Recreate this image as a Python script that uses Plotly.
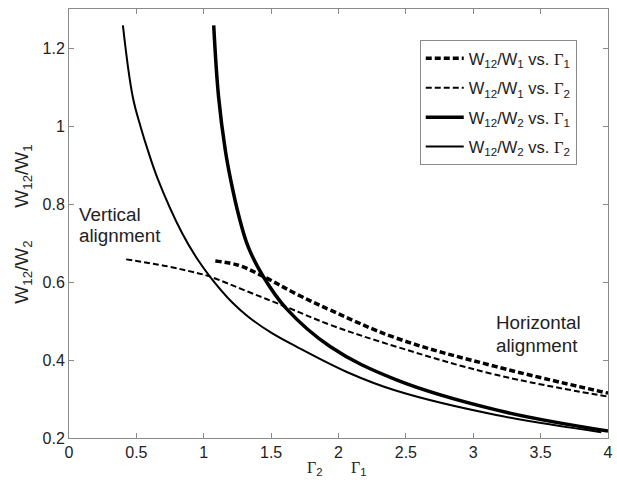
import plotly.graph_objects as go

# W12/W1 vs Gamma1 (thick dashed)
w1_g1_x = [1.086, 1.257, 1.454, 1.70, 1.94, 2.43, 3.17, 4.0]
w1_g1_y = [0.654, 0.643, 0.612, 0.567, 0.528, 0.456, 0.383, 0.315]

# W12/W1 vs Gamma2 (thin dashed)
w1_g2_x = [0.424, 0.718, 0.963, 1.037, 1.33, 1.62, 1.94, 2.43, 3.17, 4.0]
w1_g2_y = [0.658, 0.641, 0.622, 0.615, 0.575, 0.535, 0.49, 0.434, 0.362, 0.306]

# W12/W2 vs Gamma1 (thick solid)
w2_g1_x = [1.074, 1.11, 1.16, 1.20, 1.26, 1.33, 1.44, 1.61, 1.94, 2.43, 3.17, 4.0]
w2_g1_y = [1.258, 1.075, 0.938, 0.862, 0.770, 0.690, 0.615, 0.533, 0.434, 0.349, 0.272, 0.218]

# W12/W2 vs Gamma2 (thin solid)
w2_g2_x = [0.40, 0.473, 0.534, 0.583, 0.657, 0.84, 0.96, 1.05, 1.21, 1.33, 1.50, 1.70, 2.07, 2.43, 3.17, 3.95]
w2_g2_y = [1.258, 1.075, 0.995, 0.940, 0.866, 0.725, 0.655, 0.612, 0.548, 0.511, 0.470, 0.432, 0.368, 0.321, 0.259, 0.215]

x_ticks = [0, 0.5, 1, 1.5, 2, 2.5, 3, 3.5, 4]
x_tick_text = ["0", "0.5", "1", "1.5", "2", "2.5", "3", "3.5", "4"]
y_ticks = [0.2, 0.4, 0.6, 0.8, 1.0, 1.2]
y_tick_text = ["0.2", "0.4", "0.6", "0.8", "1", "1.2"]

SANS = "Arial, 'Liberation Sans', sans-serif"
G = "<span style=\"font-family:'Liberation Serif', 'Times New Roman', serif\">\u0393</span>"

names = [
    "W<sub>12</sub>/W<sub>1</sub> vs. " + G + "<sub>1</sub>",
    "W<sub>12</sub>/W<sub>1</sub> vs. " + G + "<sub>2</sub>",
    "W<sub>12</sub>/W<sub>2</sub> vs. " + G + "<sub>1</sub>",
    "W<sub>12</sub>/W<sub>2</sub> vs. " + G + "<sub>2</sub>",
]

series = [
    (w1_g1_x, w1_g1_y, 3.5, "6px,3px"),
    (w1_g2_x, w1_g2_y, 2.0, "6px,3px"),
    (w2_g1_x, w2_g1_y, 3.5, "solid"),
    (w2_g2_x, w2_g2_y, 2.0, "solid"),
]

fig = go.Figure()
for i, ((xs, ys, w, d), nm) in enumerate(zip(series, names)):
    fig.add_trace(go.Scatter(
        x=xs, y=ys, mode="lines", name=nm, legendgroup=f"g{i}",
        line=dict(color="black", width=w, dash=d, shape="spline", smoothing=1.1),
    ))

axis_common = dict(
    showline=True, mirror="ticks", linecolor="#8a8a8a", linewidth=1,
    ticks="inside", ticklen=5, tickcolor="#8a8a8a",
    showgrid=False, zeroline=False, ticklabeloverflow="allow",
    tickfont=dict(family=SANS, size=16, color="#222"),
)

fig.update_xaxes(range=[0, 4], tickvals=x_ticks, ticktext=x_tick_text, **axis_common)
fig.update_yaxes(range=[0.2, 1.3], tickvals=y_ticks, ticktext=y_tick_text, **axis_common)

ann_font = dict(family=SANS, size=18.8, color="#222")
annotations = [
    dict(x=0.059, y=0.772, text="Vertical", showarrow=False, xanchor="left", yanchor="middle", font=ann_font),
    dict(x=0.059, y=0.718, text="alignment", showarrow=False, xanchor="left", yanchor="middle", font=ann_font),
    dict(x=3.154, y=0.495, text="Horizontal", showarrow=False, xanchor="left", yanchor="middle", font=ann_font),
    dict(x=3.154, y=0.438, text="alignment", showarrow=False, xanchor="left", yanchor="middle", font=ann_font),
    # y-axis titles
    dict(xref="paper", yref="paper", x=-0.086, y=(438 - 176) / 429, text="W<sub>12</sub>/W<sub>1</sub>",
         showarrow=False, textangle=-90, xanchor="center", yanchor="middle",
         font=dict(family=SANS, size=19, color="#222")),
    dict(xref="paper", yref="paper", x=-0.086, y=(438 - 272) / 429, text="W<sub>12</sub>/W<sub>2</sub>",
         showarrow=False, textangle=-90, xanchor="center", yanchor="middle",
         font=dict(family=SANS, size=19, color="#222")),
    # x-axis titles
    dict(xref="paper", yref="paper", x=(317 - 69) / 544, y=-(468 - 438) / 429, text=G + "<sub>2</sub>",
         showarrow=False, xanchor="center", yanchor="middle",
         font=dict(family=SANS, size=16, color="#222")),
    dict(xref="paper", yref="paper", x=(361 - 69) / 544, y=-(468 - 438) / 429, text=G + "<sub>1</sub>",
         showarrow=False, xanchor="center", yanchor="middle",
         font=dict(family=SANS, size=16, color="#222")),
]

fig.update_layout(
    width=617, height=484,
    margin=dict(l=69, r=4, t=9, b=46),
    paper_bgcolor="white", plot_bgcolor="white",
    showlegend=True,
    legend=dict(
        x=(423 - 69) / 544, y=(438 - 40) / 429, xanchor="left", yanchor="top",
        bgcolor="white", bordercolor="#8a8a8a", borderwidth=1,
        font=dict(family=SANS, size=16.5, color="#222"),
        tracegroupgap=5, itemwidth=38,
    ),
    annotations=annotations,
)

fig.write_html("out.html")
